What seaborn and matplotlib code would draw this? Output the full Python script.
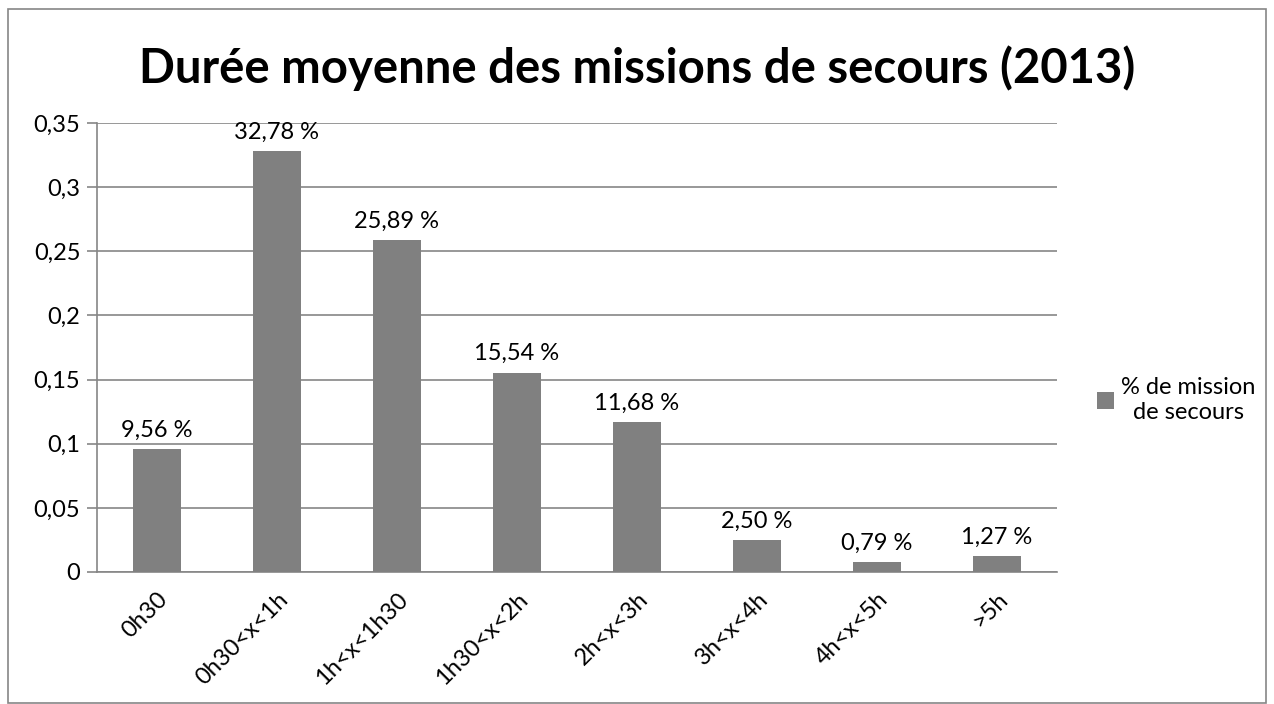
"""Durée moyenne des missions de secours (2013) - bar chart style Excel."""
import matplotlib

matplotlib.use("Agg")
import matplotlib.pyplot as plt
import pandas as pd
import seaborn as sns
from matplotlib.patches import Rectangle, Patch

categories = ["0h30", "0h30<x<1h", "1h<x<1h30", "1h30<x<2h",
              "2h<x<3h", "3h<x<4h", "4h<x<5h", ">5h"]
values = [0.0956, 0.3278, 0.2589, 0.1554, 0.1168, 0.0250, 0.0079, 0.0127]
bar_labels = ["9,56 %", "32,78 %", "25,89 %", "15,54 %",
              "11,68 %", "2,50 %", "0,79 %", "1,27 %"]
y_ticks = [0, 0.05, 0.1, 0.15, 0.2, 0.25, 0.3, 0.35]
y_tick_labels = ["0", "0,05", "0,1", "0,15", "0,2", "0,25", "0,3", "0,35"]
series_name = "% de mission\nde secours"
title = "Durée moyenne des missions de secours (2013)"

sns.set_style("white")
plt.rcParams["font.family"] = ["Lato", "DejaVu Sans"]
plt.rcParams["text.color"] = "black"
plt.rcParams["xtick.labelcolor"] = "black"
plt.rcParams["ytick.labelcolor"] = "black"

W, H = 1274, 704
FS = 17
fig = plt.figure(figsize=(W / 100, H / 100), dpi=100)
ax = fig.add_axes([97 / W, 132 / H, 960 / W, 449 / H])

df = pd.DataFrame({"cat": categories, "val": values})
sns.barplot(data=df, x="cat", y="val", color="#808080", saturation=1,
            width=0.4, linewidth=0, ax=ax, zorder=3)

ax.set_xlim(-0.5, len(categories) - 0.5)
ax.set_ylim(0, 0.35)
ax.set_yticks(y_ticks)
ax.set_yticklabels(y_tick_labels, fontsize=FS)
ax.set_xticks(range(len(categories)))
ax.set_xticklabels(categories, fontsize=FS, rotation=45, ha="right",
                   rotation_mode="anchor")
ax.set_xticks([i - 0.5 for i in range(len(categories) + 1)], minor=True)
ax.tick_params(axis="x", which="major", length=0, pad=12)
ax.tick_params(axis="x", which="minor", length=7, color="#868686", width=1.2)
ax.tick_params(axis="y", length=7, color="#868686", width=1.2, pad=5, left=True)
ax.set_xlabel("")
ax.set_ylabel("")

ax.yaxis.grid(True, color="#868686", linewidth=1.2, zorder=0)
ax.set_axisbelow(True)
for side in ["top", "right"]:
    ax.spines[side].set_visible(False)
for side in ["left", "bottom"]:
    ax.spines[side].set_color("#868686")
    ax.spines[side].set_linewidth(1.2)

for i, (v, lab) in enumerate(zip(values, bar_labels)):
    ax.annotate(lab, (i, v), xytext=(0, 6), textcoords="offset points",
                ha="center", va="bottom", fontsize=FS)

handle = Patch(facecolor="#808080", edgecolor="none")
leg = fig.legend([handle], [series_name], loc="center left",
                 bbox_to_anchor=(1076 / W, 1 - 400 / H), frameon=False,
                 fontsize=FS, handlelength=0.7, handleheight=0.7,
                 handletextpad=0.3)
for t in leg.get_texts():
    t.set_multialignment("center")

fig.text(0.5, 1 - 68 / H, title, ha="center", va="center",
         fontsize=34, fontweight="bold")

fig.patches.append(Rectangle((8 / W, 1 / H), 1258 / W, 694 / H,
                             transform=fig.transFigure, fill=False,
                             edgecolor="#868686", linewidth=1.2))

fig.savefig("out.png", dpi=100)
